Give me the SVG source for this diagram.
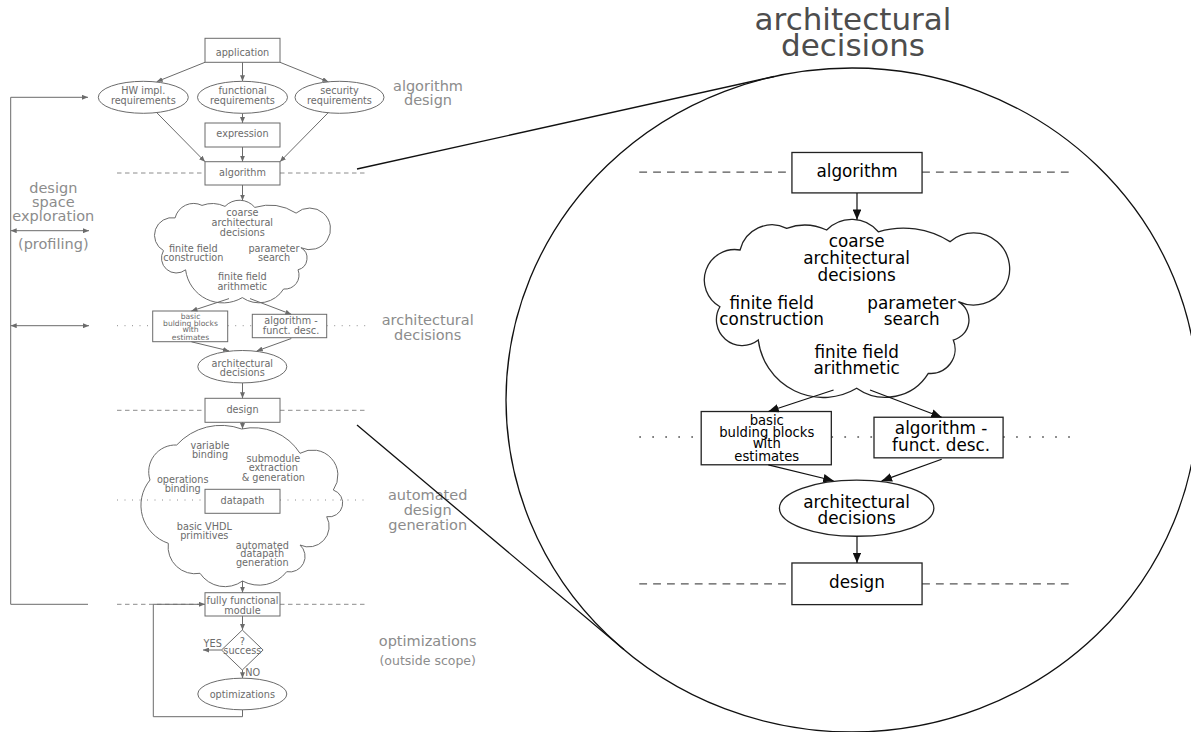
<svg xmlns="http://www.w3.org/2000/svg" width="1191" height="732" viewBox="0 0 1191 732">
  <defs>
    <style>
      text { font-family: "DejaVu Sans", "Liberation Sans", sans-serif; text-anchor: middle; }
      .t { font-size: 9.7px; fill: #6b6b6b; }
      .ts { font-size: 7.6px; fill: #6b6b6b; }
      .lbl { font-size: 14.5px; fill: #8c8c8c; }
      .lbl-s { font-size: 12.5px; fill: #8c8c8c; }
      .ttl { font-size: 31px; fill: #4d4d4d; }
      .shp { fill: #fff; stroke: #6b6b6b; stroke-width: 1; }
      .cloud { fill: none; stroke: #6b6b6b; stroke-width: 1; }
      .con { fill: none; stroke: #6b6b6b; stroke-width: 1; }
      .dash { fill: none; stroke: #8c8c8c; stroke-width: 1; stroke-dasharray: 4.5 3.5; }
      .dot { fill: none; stroke: #8c8c8c; stroke-width: 1; stroke-dasharray: 1 6.5; }
      .zoom { fill: none; stroke: #111; stroke-width: 1.3; }
      /* magnified stage: same geometry, darker ink */
      .mag .t, .mag .ts { fill: #000; }
      .mag .shp { stroke: #222; stroke-width: 0.75; }
      .mag .cloud { stroke: #222; stroke-width: 0.75; }
      .mag .con { stroke: #111; stroke-width: 0.7; }
      .mag .dash { stroke: #555; stroke-width: 0.75; }
      .mag .dot { stroke: #555; stroke-width: 0.75; }
    </style>
    <marker id="ah-g" markerUnits="userSpaceOnUse" markerWidth="6" markerHeight="5" refX="6" refY="2.5" orient="auto-start-reverse">
      <path d="M0,0 L6,2.5 L0,5 Z" fill="#6b6b6b"/>
    </marker>
    <marker id="ah-k" markerUnits="userSpaceOnUse" markerWidth="6" markerHeight="5" refX="6" refY="2.5" orient="auto-start-reverse">
      <path d="M0,0 L6,2.5 L0,5 Z" fill="#111"/>
    </marker>
    <path id="cloud-arch" d="M175.1,217.9 A19 19 0 0 1 202,205.4 A30 30 0 0 1 225,206.4 A20 20 0 0 1 254.8,207.4 A50 50 0 0 1 296.1,213.1 A20.8 20.8 0 1 1 300.9,247.7 A12 12 0 0 1 298,269.8 A14 14 0 0 1 283.6,289 A29 29 0 0 1 242.3,297.6 A37.7 37.7 0 0 1 185.6,269.8 A14.9 14.9 0 0 1 163.5,250.6 A17.6 17.6 0 0 1 175.1,217.9 Z"/>
  </defs>
  <rect width="1191" height="732" fill="#fff"/>

  <!-- level separators -->
  <g id="levels">
    <path class="dash" d="M117,173 H205 M280,173 H367"/>
    <path class="dot" d="M117,325.7 H152.7 M227.7,325.7 H252.3 M326.7,325.7 H367"/>
    <path class="dash" d="M117,410.3 H205 M280,410.3 H367"/>
    <path class="dot" d="M117,500 H205 M280,500 H367"/>
    <path class="dash" d="M117,604.3 H205 M280,604.3 H367"/>
  </g>

  <!-- side labels -->
  <g id="labels">
    <text class="lbl" x="428" y="90.5">algorithm</text>
    <text class="lbl" x="428" y="105.3">design</text>
    <text class="lbl" x="53.3" y="192.5">design</text>
    <text class="lbl" x="53.3" y="207">space</text>
    <text class="lbl" x="53.3" y="221.3">exploration</text>
    <text class="lbl" x="53.3" y="248.5">(profiling)</text>
    <text class="lbl" x="427.7" y="324.8">architectural</text>
    <text class="lbl" x="427.7" y="339.5">decisions</text>
    <text class="lbl" x="427.7" y="500.3">automated</text>
    <text class="lbl" x="427.7" y="514.6">design</text>
    <text class="lbl" x="427.7" y="529.6">generation</text>
    <text class="lbl" x="427.7" y="646.4">optimizations</text>
    <text class="lbl-s" x="427.7" y="664.5">(outside scope)</text>
    <text class="ttl" x="853" y="30">architectural</text>
    <text class="ttl" x="853" y="55.5">decisions</text>
  </g>

  <!-- flow nodes -->
  <g id="application"><rect class="shp" x="205" y="38.3" width="75" height="24"/><text class="t" x="242.5" y="56">application</text></g>
  <g id="hw-req"><ellipse class="shp" cx="143.3" cy="97.3" rx="45" ry="16"/><text class="t" x="143.3" y="94.2">HW impl.</text><text class="t" x="143.3" y="103.6">requirements</text></g>
  <g id="func-req"><ellipse class="shp" cx="242.5" cy="97.3" rx="45" ry="16"/><text class="t" x="242.5" y="94.2">functional</text><text class="t" x="242.5" y="103.6">requirements</text></g>
  <g id="sec-req"><ellipse class="shp" cx="339.5" cy="97.3" rx="44.5" ry="16"/><text class="t" x="339.5" y="94.2">security</text><text class="t" x="339.5" y="103.6">requirements</text></g>
  <g id="expression"><rect class="shp" x="205" y="123" width="75" height="24"/><text class="t" x="242.5" y="137">expression</text></g>
  <g id="algorithm"><rect class="shp" x="205" y="161.7" width="75" height="23.3"/><text class="t" x="242.5" y="175.8">algorithm</text></g>
  <g id="arch-cloud">
    <use href="#cloud-arch" class="cloud"/>
    <text class="t" x="242.3" y="216">coarse</text>
    <text class="t" x="242.3" y="225.8">architectural</text>
    <text class="t" x="242.3" y="235.6">decisions</text>
    <text class="t" x="193.3" y="252">finite field</text>
    <text class="t" x="193.3" y="261.4">construction</text>
    <text class="t" x="274" y="252">parameter</text>
    <text class="t" x="274" y="261.4">search</text>
    <text class="t" x="242.3" y="280">finite field</text>
    <text class="t" x="242.3" y="289.6">arithmetic</text>
  </g>
  <g id="building-blocks"><rect class="shp" x="152.7" y="311" width="75" height="30.7"/><text class="ts" x="190.5" y="318.5">basic</text><text class="ts" x="190.5" y="325.6">bulding blocks</text><text class="ts" x="190.5" y="332.3">with</text><text class="ts" x="190.5" y="339.6">estimates</text></g>
  <g id="funct-desc"><rect class="shp" x="252.3" y="314.3" width="74.4" height="23.4"/><text class="t" x="291" y="324.2">algorithm -</text><text class="t" x="291" y="333.8">funct. desc.</text></g>
  <g id="arch-decisions"><ellipse class="shp" cx="242.3" cy="366.7" rx="44.5" ry="16.2"/><text class="t" x="242.3" y="366.5">architectural</text><text class="t" x="242.3" y="376">decisions</text></g>
  <g id="design"><rect class="shp" x="205" y="398.3" width="75" height="24"/><text class="t" x="242.5" y="413">design</text></g>
  <g id="generation-cloud">
    <path class="cloud" d="M176.7,445 A60 60 0 0 1 241.7,429 A55 55 0 0 1 300,453.3 A25.4 25.4 0 0 1 333.3,490 A13.8 13.8 0 0 1 326.7,516.7 A20.5 20.5 0 0 1 300,545 A15.5 15.5 0 0 1 286.7,571.7 A35 35 0 0 1 242.5,581 A30 30 0 0 1 200,573.3 A27 27 0 0 1 168.3,543.3 A40 40 0 0 1 150,480 A26.8 26.8 0 0 1 176.7,445 Z"/>
    <text class="t" x="210" y="448.5">variable</text>
    <text class="t" x="210" y="458">binding</text>
    <text class="t" x="273.3" y="462">submodule</text>
    <text class="t" x="273.3" y="471">extraction</text>
    <text class="t" x="273.3" y="480.5">&amp; generation</text>
    <text class="t" x="182.7" y="482.5">operations</text>
    <text class="t" x="182.7" y="492">binding</text>
    <text class="t" x="204.3" y="529.5">basic VHDL</text>
    <text class="t" x="204.3" y="539">primitives</text>
    <text class="t" x="262.3" y="548.5">automated</text>
    <text class="t" x="262.3" y="557">datapath</text>
    <text class="t" x="262.3" y="566">generation</text>
  </g>
  <g id="datapath"><rect class="shp" x="205" y="489.3" width="75" height="24"/><text class="t" x="242.5" y="504">datapath</text></g>
  <g id="module"><rect class="shp" x="205" y="592.7" width="75" height="23.3"/><text class="t" x="242.5" y="604.2">fully functional</text><text class="t" x="242.5" y="614.3">module</text></g>
  <g id="success"><path class="shp" d="M242.3,630 L263.1,650 L242.3,670 L221.5,650 Z"/><text class="t" x="242.3" y="645.2">?</text><text class="t" x="242.3" y="653.6">success</text></g>
  <g id="optimizations"><ellipse class="shp" cx="242.3" cy="694" rx="44.5" ry="15.8"/><text class="t" x="242.3" y="697.5">optimizations</text></g>

  <!-- connectors -->
  <g id="connectors">
    <path class="con" marker-end="url(#ah-g)" d="M205,62.3 L156.7,81.7"/>
    <path class="con" marker-end="url(#ah-g)" d="M242.5,62.3 L242.5,81.3"/>
    <path class="con" marker-end="url(#ah-g)" d="M280,62.3 L328.3,81.8"/>
    <path class="con" marker-end="url(#ah-g)" d="M242.5,113.3 L242.5,123"/>
    <path class="con" marker-end="url(#ah-g)" d="M156.7,112.6 L205,161.7"/>
    <path class="con" marker-end="url(#ah-g)" d="M242.5,147 L242.5,161.7"/>
    <path class="con" marker-end="url(#ah-g)" d="M328.3,112.6 L280,161.7"/>
    <path class="con" marker-end="url(#ah-g)" d="M242.5,185 L242.5,200.5"/>
    <path class="con" marker-end="url(#ah-g)" d="M229,298.6 L191.4,311"/>
    <path class="con" marker-end="url(#ah-g)" d="M250,298.6 L291.3,314.3"/>
    <path class="con" marker-end="url(#ah-g)" d="M191.4,341.8 L229,350.9"/>
    <path class="con" marker-end="url(#ah-g)" d="M291.3,338.5 L256.7,351"/>
    <path class="con" marker-end="url(#ah-g)" d="M242.5,382.9 L242.5,398.3"/>
    <path class="con" marker-end="url(#ah-g)" d="M242.5,422.3 L242.5,429"/>
    <path class="con" marker-end="url(#ah-g)" d="M242.5,581 L242.5,592.7"/>
    <path class="con" marker-end="url(#ah-g)" d="M242.5,616 L242.5,630"/>
    <path class="con" marker-end="url(#ah-g)" d="M221.5,650 L203,650"/>
    <text class="t" x="212.7" y="646.8">YES</text>
    <path class="con" marker-end="url(#ah-g)" d="M242.5,670 L242.5,678.2"/>
    <text class="t" x="252.8" y="676.2">NO</text>
    <path class="con" marker-end="url(#ah-g)" d="M242.5,709.8 V716.7 H153.3 V604.3 H205"/>
    <path class="con" marker-end="url(#ah-g)" d="M88,604.3 H10.7 V97.3 H88"/>
    <path class="con" marker-start="url(#ah-g)" marker-end="url(#ah-g)" d="M10.7,230.7 H89"/>
    <path class="con" marker-start="url(#ah-g)" marker-end="url(#ah-g)" d="M10.7,325.7 H89"/>
    <!-- magnifier outline -->
    <path class="zoom" d="M357,169 L774,76.5"/>
    <path class="zoom" d="M357,425 L624,649.6"/>
  </g>
  <g id="magnifier"><ellipse class="zoom" cx="852" cy="400" rx="346" ry="332"/></g>

  <!-- magnified stage: algorithm to design -->
  <g id="magnified" class="mag" transform="matrix(1.735 0 0 1.735 436.26 -128.07)">
    <path class="dash" d="M117,173 H205 M280,173 H367"/>
    <path class="dot" d="M117,325.7 H152.7 M227.7,325.7 H252.3 M326.7,325.7 H367"/>
    <path class="dash" d="M117,410.3 H205 M280,410.3 H367"/>
    <g id="m-algorithm"><rect class="shp" x="205" y="161.7" width="75" height="23.3"/><text class="t" x="242.5" y="175.8">algorithm</text></g>
    <g id="m-arch-cloud">
      <use href="#cloud-arch" class="cloud"/>
      <text class="t" x="242.3" y="216">coarse</text>
      <text class="t" x="242.3" y="225.8">architectural</text>
      <text class="t" x="242.3" y="235.6">decisions</text>
      <text class="t" x="193.3" y="252">finite field</text>
      <text class="t" x="193.3" y="261.4">construction</text>
      <text class="t" x="274" y="252">parameter</text>
      <text class="t" x="274" y="261.4">search</text>
      <text class="t" x="242.3" y="280">finite field</text>
      <text class="t" x="242.3" y="289.6">arithmetic</text>
    </g>
    <g id="m-building-blocks"><rect class="shp" x="152.7" y="311" width="75" height="30.7"/><text class="ts" x="190.5" y="318.5">basic</text><text class="ts" x="190.5" y="325.6">bulding blocks</text><text class="ts" x="190.5" y="332.3">with</text><text class="ts" x="190.5" y="339.6">estimates</text></g>
    <g id="m-funct-desc"><rect class="shp" x="252.3" y="314.3" width="74.4" height="23.4"/><text class="t" x="291" y="324.2">algorithm -</text><text class="t" x="291" y="333.8">funct. desc.</text></g>
    <g id="m-arch-decisions"><ellipse class="shp" cx="242.3" cy="366.7" rx="44.5" ry="16.2"/><text class="t" x="242.3" y="366.5">architectural</text><text class="t" x="242.3" y="376">decisions</text></g>
    <g id="m-design"><rect class="shp" x="205" y="398.3" width="75" height="24"/><text class="t" x="242.5" y="413">design</text></g>
    <g id="m-connectors">
      <path class="con" marker-end="url(#ah-k)" d="M242.5,185 L242.5,200.5"/>
      <path class="con" marker-end="url(#ah-k)" d="M229,298.6 L191.4,311"/>
      <path class="con" marker-end="url(#ah-k)" d="M250,298.6 L291.3,314.3"/>
      <path class="con" marker-end="url(#ah-k)" d="M191.4,341.8 L229,350.9"/>
      <path class="con" marker-end="url(#ah-k)" d="M291.3,338.5 L256.7,351"/>
      <path class="con" marker-end="url(#ah-k)" d="M242.5,382.9 L242.5,398.3"/>
    </g>
  </g>
</svg>
